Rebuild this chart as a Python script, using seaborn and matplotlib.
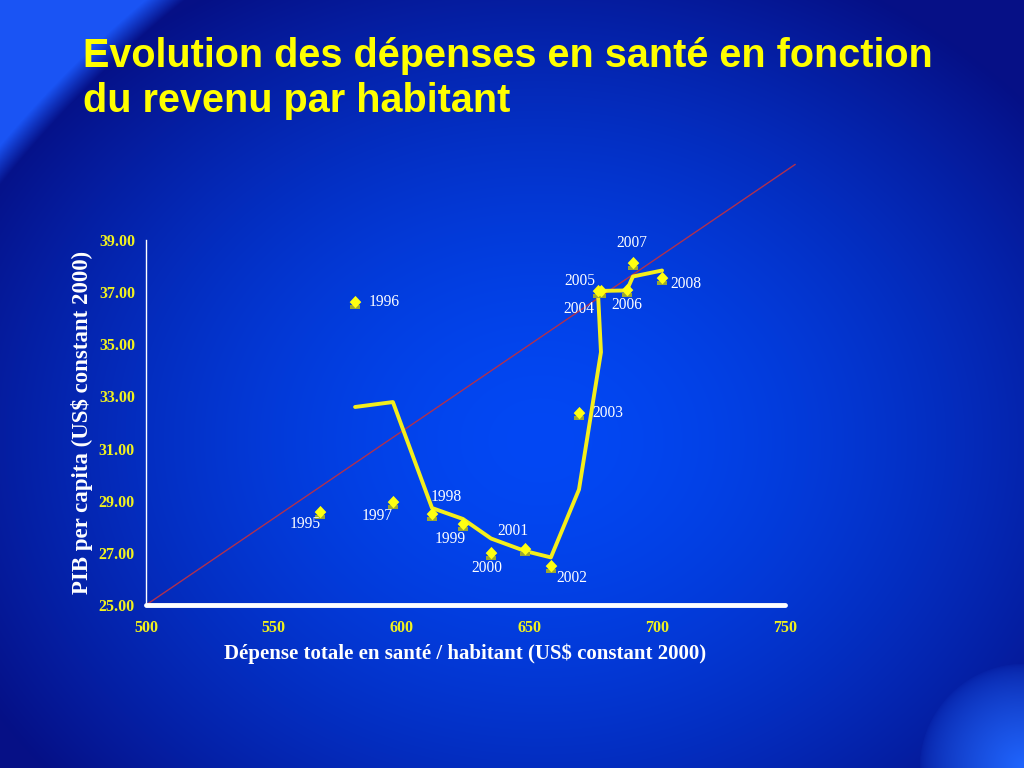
import numpy as np
import pandas as pd
import matplotlib
matplotlib.use("Agg")
import matplotlib.pyplot as plt
import seaborn as sns
from matplotlib.path import Path
from matplotlib.markers import MarkerStyle

# ---------------- data ----------------
years = ["1995", "1996", "1997", "1998", "1999", "2000", "2001",
         "2002", "2003", "2004", "2005", "2006", "2007", "2008"]
depense = [568.1, 581.8, 596.6, 611.9, 624.0, 635.0, 648.3,
           658.4, 669.4, 678.0, 676.8, 688.1, 690.5, 701.9]
pib = [28.57, 36.62, 28.95, 28.49, 28.11, 26.99, 27.15,
       26.50, 32.36, 37.04, 37.05, 37.08, 38.12, 37.54]
# label offsets (points) for each year label
lab_dx = [-11, 21, -11, 10, -9, -3, -9, 15, 21, -16, -13, 0, -1, 17]
lab_dy = [-9, 0, -10, 12, -11, -11, 13, -9, 0, -13, 7, -11, 14, -4]
# reference (diagonal) line
diag_x = [500, 754]
diag_y = [25, 41.9]
xticks = [500, 550, 600, 650, 700, 750]
yticks = [25, 27, 29, 31, 33, 35, 37, 39]

df = pd.DataFrame({"annee": years, "depense": depense, "pib": pib})
# Excel-like moving average trendline (period 2)
ma = pd.DataFrame({"depense": df["depense"],
                   "pib": df["pib"].rolling(2).mean()}).dropna()

# ---------------- figure ----------------
sns.set_theme(style="white")
plt.rcParams["font.family"] = ["Liberation Serif", "DejaVu Serif"]

fig = plt.figure(figsize=(10.24, 7.68), dpi=100)

# background gradient
H, W = 768, 1024
yy, xx = np.mgrid[0:H, 0:W].astype(float)
center = np.array([0x02, 0x48, 0xf4]) / 255
edge = np.array([0x06, 0x10, 0x86]) / 255
d = np.sqrt(((xx - 540) / 640) ** 2 + ((yy - 440) / 520) ** 2)
t = np.clip(d, 0, 1) ** 1.6
img = center[None, None, :] * (1 - t[..., None]) + edge[None, None, :] * t[..., None]
# top-left bright wedge
rr = np.sqrt((xx - 900) ** 2 + (yy - 900) ** 2)
w = np.clip((rr - 1150) / 25, 0, 1)
bright = np.array([0x1a, 0x54, 0xf4]) / 255
img = img * (1 - w[..., None]) + bright[None, None, :] * w[..., None]
# bottom-right glow
r2 = np.sqrt((xx - 1024) ** 2 + (yy - 768) ** 2)
g = np.clip(1 - r2 / 105, 0, 1) ** 0.6
glow = np.array([0x20, 0x66, 0xff]) / 255
img = img * (1 - g[..., None]) + glow[None, None, :] * g[..., None]

bg = fig.add_axes([0, 0, 1, 1], zorder=-10)
bg.imshow(img, aspect="auto", extent=[0, 1, 0, 1], origin="upper")
bg.set_axis_off()

ax = fig.add_axes([146 / 1024, 1 - 605 / 768, 639 / 1024, 365 / 768])
ax.set_facecolor("none")

# diagonal reference line
ax.plot(diag_x, diag_y, color="#b0304e", lw=1.0, clip_on=False, zorder=1)

# moving-average trend line
sns.lineplot(data=ma, x="depense", y="pib", sort=False, ax=ax,
             color="#f4ee1c", lw=2.8, zorder=3, estimator=None)

# markers: olive base + yellow diamond (house-like)
base_path = Path([(-0.75, -1.0), (0.75, -1.0), (0.75, -0.45), (-0.75, -0.45), (-0.75, -1.0)],
                 [Path.MOVETO, Path.LINETO, Path.LINETO, Path.LINETO, Path.CLOSEPOLY])
dia_path = Path([(0, 0.85), (0.75, 0.05), (0, -0.75), (-0.75, 0.05), (0, 0.85)],
                [Path.MOVETO, Path.LINETO, Path.LINETO, Path.LINETO, Path.CLOSEPOLY])
sns.scatterplot(data=df, x="depense", y="pib", marker=MarkerStyle(base_path),
                color="#9aa832", s=90, linewidth=0, ax=ax, zorder=4, legend=False)
sns.scatterplot(data=df, x="depense", y="pib", marker=MarkerStyle(dia_path),
                color="#ffff10", s=90, linewidth=0, ax=ax, zorder=5, legend=False)

for yr, xv, yv, dx, dy in zip(years, depense, pib, lab_dx, lab_dy):
    ax.annotate(yr, (xv, yv), xytext=(dx, dy), textcoords="offset points",
                ha="center", va="center", color="white", fontsize=11.2, zorder=6)

ax.set_xlim(500, 750)
ax.set_ylim(25, 39)
ax.set_xticks(xticks)
ax.set_yticks(yticks)
ax.set_xticklabels([str(v) for v in xticks])
ax.set_yticklabels([f"{v:.2f}" for v in yticks])

for s in ["top", "right"]:
    ax.spines[s].set_visible(False)
ax.spines["left"].set_color("white")
ax.spines["left"].set_linewidth(1.0)
ax.spines["bottom"].set_color("white")
ax.spines["bottom"].set_linewidth(3.5)
ax.spines["bottom"].set_capstyle("round")
ax.tick_params(axis="x", colors="white", length=4, width=3, direction="out", pad=7)
ax.tick_params(axis="y", colors="white", length=4, width=1, direction="out", pad=4)
for lab in ax.get_xticklabels() + ax.get_yticklabels():
    lab.set_color("#f2f21e")
    lab.set_fontweight("bold")
    lab.set_fontsize(11.5)

ax.set_xlabel("Dépense totale en santé / habitant (US$ constant 2000)",
              color="white", fontsize=15, fontweight="bold", labelpad=5)
ax.set_ylabel("PIB per capita (US$ constant 2000)",
              color="white", fontsize=16.5, fontweight="bold", labelpad=4)

fig.text(83 / 1024, 1 - 37 / 768,
         "Evolution des dépenses en santé en fonction\ndu revenu par habitant",
         color="#ffff00", fontsize=28.5, fontweight="bold",
         family=["Liberation Sans", "DejaVu Sans"], ha="left", va="top",
         linespacing=1.25)

fig.savefig("out.png", dpi=100)
